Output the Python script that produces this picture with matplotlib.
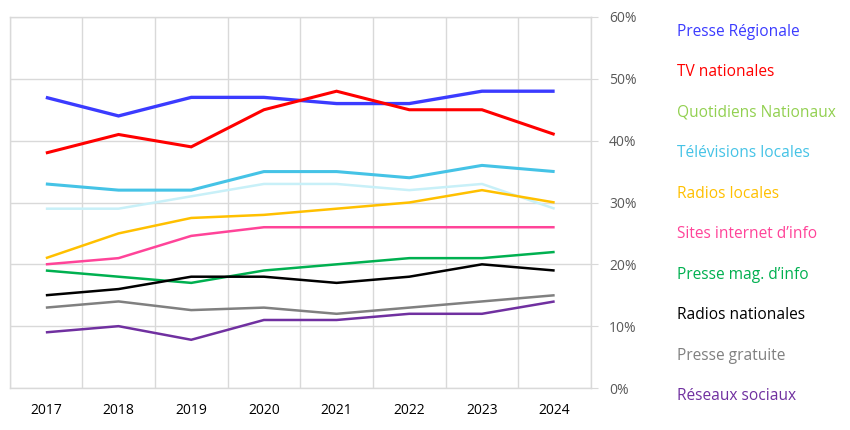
import matplotlib
matplotlib.use("Agg")
import matplotlib.pyplot as plt
from matplotlib.ticker import FuncFormatter, MultipleLocator

years = ["2017", "2018", "2019", "2020", "2021", "2022", "2023", "2024"]

presse_regionale = [47, 44, 47, 47, 46, 46, 48, 48]
tv_nationales = [38, 41, 39, 45, 48, 45, 45, 41]
quotidiens_nationaux = [29, 29, 31, 33, 33, 32, 33, 29]
televisions_locales = [33, 32, 32, 35, 35, 34, 36, 35]
radios_locales = [21, 25, 27.5, 28, 29, 30, 32, 30]
sites_internet = [20, 21, 24.6, 26, 26, 26, 26, 26]
presse_mag = [19, 18, 17, 19, 20, 21, 21, 22]
radios_nationales = [15, 16, 18, 18, 17, 18, 20, 19]
presse_gratuite = [13, 14, 12.6, 13, 12, 13, 14, 15]
reseaux_sociaux = [9, 10, 7.8, 11, 11, 12, 12, 14]

series_names = ["Presse Régionale", "TV nationales", "Quotidiens Nationaux",
                "Télévisions locales", "Radios locales", "Sites internet d\u2019info",
                "Presse mag. d\u2019info", "Radios nationales", "Presse gratuite",
                "Réseaux sociaux"]
series_values = [presse_regionale, tv_nationales, quotidiens_nationaux,
                 televisions_locales, radios_locales, sites_internet,
                 presse_mag, radios_nationales, presse_gratuite, reseaux_sociaux]
line_colors = ["#3b3bff", "#ff0000", "#c8f0f8", "#45c3e6", "#ffc000", "#ff4499",
               "#00b050", "#000000", "#808080", "#7030a0"]
label_colors = ["#3b3bff", "#ff0000", "#92d050", "#45c3e6", "#ffc000", "#ff4499",
                "#00b050", "#000000", "#808080", "#7030a0"]
widths = [2.4, 2.2, 1.8, 2.2, 1.8, 1.8, 1.8, 1.8, 1.8, 1.8]

plt.rcParams['font.family'] = ['Open Sans', 'DejaVu Sans']

W, H = 850, 430
fig = plt.figure(figsize=(W / 100, H / 100), dpi=100)
ax = fig.add_axes([9.5 / W, 1 - 388 / H, (591 - 9.5) / W, (388 - 17) / H])

x = list(range(len(years)))
for vals, c, lw in zip(series_values, line_colors, widths):
    ax.plot(x, vals, color=c, linewidth=lw, solid_joinstyle='miter', solid_capstyle='butt')

ax.set_xlim(-0.5, len(years) - 0.5)
ax.set_ylim(0, 60)
ax.yaxis.set_major_locator(MultipleLocator(10))
ax.yaxis.set_major_formatter(FuncFormatter(lambda v, p: f"{int(v)}%"))
ax.yaxis.tick_right()
ax.tick_params(axis='y', length=5, color='#d9d9d9', pad=8, labelsize=10, labelcolor='#595959')
ax.set_xticks(x)
ax.set_xticklabels(years)
ax.tick_params(axis='x', length=0, pad=11, labelsize=10, labelcolor='#000000')
ax.set_xticks([i - 0.5 for i in range(len(years) + 1)], minor=True)
ax.tick_params(axis='x', which='minor', length=0)
ax.grid(True, which='minor', axis='x', color='#d9d9d9', linewidth=1)
ax.grid(True, which='major', axis='y', color='#d9d9d9', linewidth=1)
ax.grid(False, which='major', axis='x')
for s in ax.spines.values():
    s.set_color('#d9d9d9')
    s.set_linewidth(1)
ax.set_axisbelow(True)

y0, step = 31.7, 40.5
for i, (name, c) in enumerate(zip(series_names, label_colors)):
    fig.text(677 / W, 1 - (y0 + i * step) / H, name, color=c, fontsize=11.2,
             ha='left', va='center')

fig.savefig("out.png", dpi=100)
